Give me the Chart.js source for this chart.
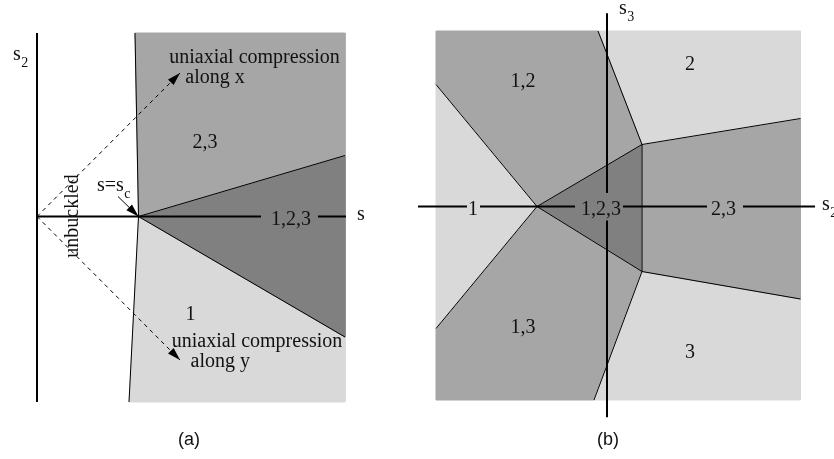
<!DOCTYPE html>
<html><head><meta charset="utf-8">
<script src="https://cdn.jsdelivr.net/npm/chart.js@4.4.1/dist/chart.umd.min.js"></script>
<style>
html,body{margin:0;padding:0;background:#fff;width:834px;height:459px;overflow:hidden;}
canvas{position:absolute;top:0;}
#ca{left:0;} #cb{left:417px;}
</style></head><body>
<canvas id="ca" width="417" height="459"></canvas>
<canvas id="cb" width="417" height="459"></canvas>
<script>
// ---------- Panel (a): s (horizontal) vs s2 (vertical), origin at the axes crossing ----------
const aRegion23  = [[98,183.5],[308,183.5],[308,61],[101.5,0]];
const aRegion123 = [[101.5,0],[308,61],[308,-120.5]];
const aRegion1   = [[101.5,0],[308,-120.5],[308,-185.5],[92,-185.5]];
const aBoundary  = [[98,183.5],[101.5,0],[92,-185.5]];
const aEdgeUpper = [[101.5,0],[308,61]];
const aEdgeLower = [[101.5,0],[308,-120.5]];
const aAxisS2    = [[0,183.5],[0,-185.5]];
const aAxisS     = [[0,0],[224,0],null,[281,0],[309,0]];
const aArrowX    = [[0,0],[143,143.5]];
const aArrowY    = [[0,0],[143,-143.5]];
const aArrowSc   = [[81,20],[101.5,0]];
const aLabels = [
  {t:'s', sub:'2', at:[-24,156.5], left:true},
  {t:'uniaxial compression', at:[217.5,153.5]},
  {t:'along x', at:[178,133.5]},
  {t:'2,3', at:[168,68.5]},
  {t:'s=s', sub:'c', at:[60,26], left:true},
  {t:'1,2,3', at:[254,-8.5]},
  {t:'s', at:[320,-3.5], left:true},
  {t:'1', at:[153.5,-103.5]},
  {t:'uniaxial compression', at:[220,-130.5]},
  {t:'along y', at:[183.3,-150.5]},
  {t:'unbuckled', at:[41,0.5], rot:-90},
  {t:'(a)', at:[152,-228.5], sans:true}
];

// ---------- Panel (b): s2 (horizontal) vs s3 (vertical), origin at the axes crossing ----------
const bC  = [-70,0], bPt = [35,62], bPb = [35,-65];
const bUL = [-171,122], bLL = [-171,-122], bT = [-9,175.5], bB = [-13,-193.5];
const bRU = [193.5,88], bRL = [193.5,-92.5];
const bTL = [-171,175.5], bTR = [193.5,175.5], bBR = [193.5,-193.5], bBL = [-171,-193.5];
const bRegion1   = [bUL,bC,bLL];
const bRegion12  = [bC,bUL,bTL,bT,bPt];
const bRegion2   = [bT,bTR,bRU,bPt];
const bRegion23  = [bPt,bRU,bRL,bPb];
const bRegion3   = [bPb,bRL,bBR,bB];
const bRegion13  = [bC,bPb,bB,bBL,bLL];
const bRegion123 = [bC,bPt,bPb];
const bEdges = [[bUL,bC,bLL],[bT,bPt,bRU],[bRL,bPb,bB],[bC,bPt],[bC,bPb]];
const bEdgeInner = [bPt,bPb];
const bAxisS3 = [[0,193.2],[0,13.5],null,[0,-14],[0,-210.8]];
const bAxisS2 = [[-189,0],[-140,0],null,[-127,0],[-32,0],null,[16,0],[100,0],null,[136,0],[208,0]];
const bLabels = [
  {t:'1', at:[-134,-8.5]},
  {t:'1,2,3', at:[-6,-8.5]},
  {t:'2,3', at:[116.5,-8.5]},
  {t:'s', sub:'2', at:[215,-3.5], left:true},
  {t:'s', sub:'3', at:[12,192.5], left:true},
  {t:'1,2', at:[-84,119.5]},
  {t:'2', at:[83,136.5]},
  {t:'1,3', at:[-84,-126.5]},
  {t:'3', at:[83,-151.5]},
  {t:'(b)', at:[1,-238.5], sans:true}
];

const LIGHT = '#d9d9d9', MID = '#a6a6a6', DARK = '#808080';

function toPts(arr){ return arr.map(p => p ? {x:p[0], y:p[1]} : {x:null, y:null}); }
function poly(pts, color){
  return {data: toPts(pts.concat([pts[0]])), fill:'shape', backgroundColor:color,
          borderColor:color, borderWidth:1, pointRadius:0, tension:0, order:10};
}
function line(pts, color, width, dash, arrow){
  return {data: toPts(pts), fill:false, borderColor:color, borderWidth:width,
          borderDash: dash || [], pointRadius:0, tension:0, order:5, arrow: arrow || null};
}

const arrowPlugin = {
  id:'arrowheads',
  afterDatasetsDraw(chart){
    const ctx = chart.ctx;
    chart.data.datasets.forEach((ds, i) => {
      if (!ds.arrow) return;
      const pts = chart.getDatasetMeta(i).data;
      const p1 = pts[pts.length-2], p2 = pts[pts.length-1];
      const a = Math.atan2(p2.y-p1.y, p2.x-p1.x);
      const L = ds.arrow[0], W = ds.arrow[1];
      ctx.save();
      ctx.fillStyle = '#000';
      ctx.beginPath();
      ctx.moveTo(p2.x, p2.y);
      ctx.lineTo(p2.x - L*Math.cos(a) - W*Math.sin(a), p2.y - L*Math.sin(a) + W*Math.cos(a));
      ctx.lineTo(p2.x - L*Math.cos(a) + W*Math.sin(a), p2.y - L*Math.sin(a) - W*Math.cos(a));
      ctx.closePath();
      ctx.fill();
      ctx.restore();
    });
  }
};

function labelPlugin(labels){
  return {
    id:'diagramLabels',
    afterDraw(chart){
      const ctx = chart.ctx, xs = chart.scales.x, ys = chart.scales.y;
      ctx.save();
      ctx.fillStyle = '#111';
      ctx.textBaseline = 'alphabetic';
      labels.forEach(l => {
        const px = xs.getPixelForValue(l.at[0]), py = ys.getPixelForValue(l.at[1]);
        ctx.font = l.sans ? '18px "Liberation Sans", Arial, sans-serif' : '20px "Liberation Serif", "Times New Roman", serif';
        ctx.save();
        ctx.translate(px, py);
        if (l.rot) ctx.rotate(l.rot * Math.PI / 180);
        ctx.textAlign = l.left ? 'left' : 'center';
        ctx.fillText(l.t, 0, 0);
        if (l.sub) {
          const w = ctx.measureText(l.t).width;
          ctx.font = '14px "Liberation Serif", "Times New Roman", serif';
          ctx.textAlign = 'left';
          ctx.fillText(l.sub, w + 0.5, 7);
        }
        ctx.restore();
      });
      ctx.restore();
    }
  };
}

function makeChart(id, datasets, labels, xr, yr){
  return new Chart(document.getElementById(id), {
    type:'line',
    data:{datasets},
    options:{
      responsive:false, devicePixelRatio:1, animation:false,
      layout:{padding:0},
      plugins:{legend:{display:false}, tooltip:{enabled:false}},
      scales:{
        x:{type:'linear', display:false, min:xr[0], max:xr[1]},
        y:{type:'linear', display:false, min:yr[0], max:yr[1]}
      },
      elements:{line:{borderCapStyle:'butt', borderJoinStyle:'miter'}}
    },
    plugins:[arrowPlugin, labelPlugin(labels)]
  });
}

makeChart('ca', [
  poly(aRegion23, MID), poly(aRegion123, DARK), poly(aRegion1, LIGHT),
  line(aBoundary, '#000', 1), line(aEdgeUpper, '#000', 1), line(aEdgeLower, '#000', 1),
  line(aArrowX, '#000', 1, [4,4], [13,4]),
  line(aArrowY, '#000', 1, [4,4], [13,4]),
  line(aArrowSc, '#000', 1, [], [13,4]),
  Object.assign(line(aAxisS2, '#000', 2), {order:1}),
  Object.assign(line(aAxisS, '#000', 2), {order:1})
], aLabels, [-37, 380], [-242.5, 216.5]);

const bLineSets = bEdges.map(e => line(e, '#000', 1));
makeChart('cb', [
  poly(bRegion1, LIGHT), poly(bRegion12, MID), poly(bRegion2, LIGHT), poly(bRegion23, MID),
  poly(bRegion3, LIGHT), poly(bRegion13, MID), poly(bRegion123, DARK),
  ...bLineSets,
  line(bEdgeInner, '#505050', 2),
  Object.assign(line(bAxisS3, '#000', 2), {order:1}),
  Object.assign(line(bAxisS2, '#000', 2), {order:1})
], bLabels, [-190, 227], [-252.5, 206.5]);
</script>
</body></html>
